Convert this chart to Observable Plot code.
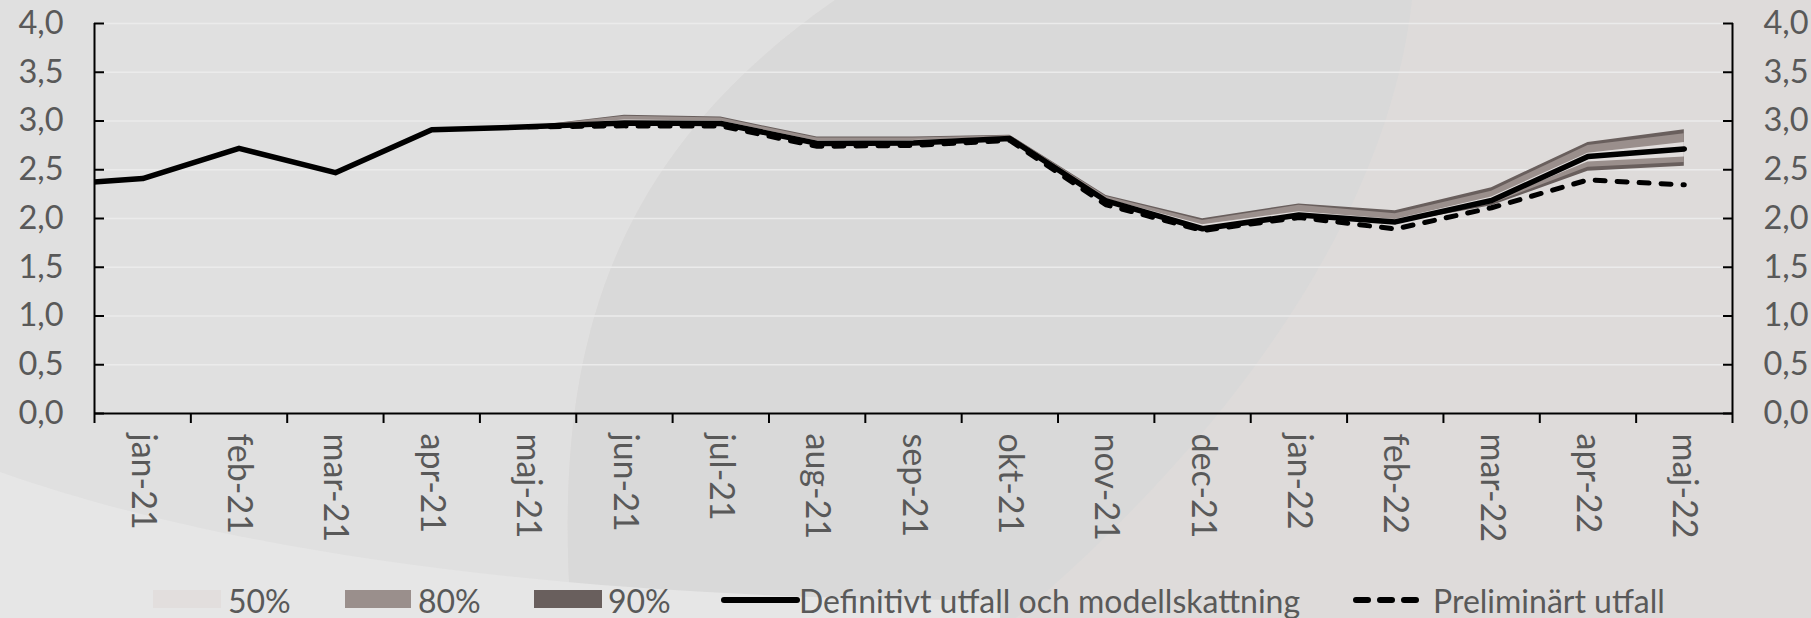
<!DOCTYPE html>
<html><head><meta charset="utf-8">
<script src="https://cdn.jsdelivr.net/npm/d3@7"></script>
<script src="https://cdn.jsdelivr.net/npm/@observablehq/plot@0.6"></script>
<style>
html,body{margin:0;padding:0;width:1811px;height:618px;overflow:hidden;background:#dedbda;font-family:Lato,sans-serif}
#bg{position:absolute;left:0;top:0}
#chart{position:absolute;left:0;top:0}
#legend{position:absolute;left:0;top:580px;width:1811px;height:42px}
.sw{position:absolute;top:10px;height:18px}
.lt{position:absolute;top:0;line-height:42px;font-size:32px;color:#595959;white-space:nowrap}
.ls{position:absolute;top:0}
</style></head>
<body>
<svg id="bg" width="1811" height="618">
  <rect width="1811" height="618" fill="#dedbda"/>
  <path d="M0,0 L835,0 C590,170 555,380 571,618 L0,618 Z" fill="#e0e0e0"/>
  <path d="M835,0 L1412,0 C1390,200 1250,420 1016,618 L571,618 C555,380 590,170 835,0 Z" fill="#d9d9d9"/>
  <path d="M0,472 C250,560 600,600 1000,600 L1000,618 L0,618 Z" fill="#e6e6e6"/>
</svg>
<div id="chart"></div>
<div id="legend"></div>
<script>
// ---- data ----
const months = ["jan-21","feb-21","mar-21","apr-21","maj-21","jun-21","jul-21","aug-21","sep-21","okt-21","nov-21","dec-21","jan-22","feb-22","mar-22","apr-22","maj-22"];
const dec20 = 2.34; // previous month, clipped at the left edge
const definitive  = [2.41,2.72,2.47,2.91,2.94,2.98,2.975,2.77,2.775,2.82,2.18,1.895,2.035,1.965,2.185,2.635,2.714];
const preliminary = [null,null,null,null,2.94,2.95,2.95,2.74,2.75,2.80,2.14,1.877,2.01,1.893,2.11,2.396,2.345];
const hi90 = [null,null,null,null,2.94,3.06,3.04,2.835,2.835,2.855,2.235,1.997,2.15,2.08,2.315,2.78,2.91];
const hi80 = [null,null,null,null,2.94,3.05,3.03,2.825,2.825,2.85,2.225,1.98,2.135,2.05,2.28,2.75,2.87];
const hi50 = [null,null,null,null,2.94,3.01,3.0,2.795,2.8,2.835,2.2,1.935,2.07,1.99,2.22,2.67,2.78];
const lo50 = [null,null,null,null,2.94,2.975,2.97,2.765,2.77,2.815,2.175,1.89,2.03,1.96,2.17,2.58,2.63];
const lo80 = [null,null,null,null,2.94,2.97,2.965,2.76,2.765,2.81,2.17,1.885,2.025,1.955,2.15,2.525,2.575];
const lo90 = [null,null,null,null,2.94,2.965,2.96,2.755,2.76,2.805,2.165,1.88,2.02,1.95,2.13,2.485,2.535];
const yTicks = [0,0.5,1,1.5,2,2.5,3,3.5,4];
const legendLabels = ["50%","80%","90%","Definitivt utfall och modellskattning","Preliminärt utfall"];
const bandColors = {b90:"#695f5d", b80:"#9a8f8c", b50:"#e2dedd"};

// ---- derived tables ----
const idx = d3.range(months.length);
const lineData = [{i:-1, v:dec20}, ...idx.map(i => ({i, v:definitive[i]}))];
const prelData = idx.filter(i => preliminary[i] != null).map(i => ({i, v:preliminary[i]}));
const bandData = idx.filter(i => hi90[i] != null).map(i => ({i, hi90:hi90[i], hi80:hi80[i], hi50:hi50[i], lo50:lo50[i], lo80:lo80[i], lo90:lo90[i]}));
const boundaries = d3.range(months.length + 1).map(k => k - 0.5);
const fmt = d => d.toFixed(1).replace(".", ",");

const W = 1811, H = 580;
const chart = Plot.plot({
  width: W, height: H,
  marginLeft: 94, marginRight: 79, marginTop: 23, marginBottom: H - 413,
  x: {type: "linear", domain: [-0.5, months.length - 0.5], axis: null, label: null},
  y: {domain: [0, 4], axis: null, label: null},
  style: {background: "transparent", fontFamily: "Lato, sans-serif", overflow: "visible"},
  marks: [
    Plot.gridY(yTicks, {stroke: "#ebebeb", strokeOpacity: 1, strokeWidth: 1.5}),
    Plot.areaY(bandData, {x: "i", y1: "lo90", y2: "hi90", fill: bandColors.b90}),
    Plot.areaY(bandData, {x: "i", y1: "lo80", y2: "hi80", fill: bandColors.b80}),
    Plot.areaY(bandData, {x: "i", y1: "lo50", y2: "hi50", fill: bandColors.b50}),
    Plot.lineY(lineData, {x: "i", y: "v", stroke: "black", strokeWidth: 5.5, strokeLinejoin: "round", clip: true}),
    Plot.lineY(prelData, {x: "i", y: "v", stroke: "black", strokeWidth: 5, strokeDasharray: "10,12", strokeLinecap: "round", strokeLinejoin: "round"}),
    Plot.ruleY([0], {stroke: "black", strokeWidth: 2}),
    Plot.ruleX([-0.5, months.length - 0.5], {stroke: "black", strokeWidth: 2}),
    Plot.axisX(boundaries, {anchor: "bottom", tickSize: 10, tickFormat: () => "", stroke: "black", strokeWidth: 2}),
    Plot.axisY(yTicks, {anchor: "left", tickSize: -10, tickFormat: () => "", stroke: "black", strokeWidth: 2}),
    Plot.axisY(yTicks, {anchor: "right", tickSize: -10, tickFormat: () => "", stroke: "black", strokeWidth: 2}),
    Plot.axisY(yTicks, {anchor: "left", tickSize: 0, tickPadding: 31, tickFormat: fmt, fontSize: 32.5, fill: "#595959"}),
    Plot.axisY(yTicks, {anchor: "right", tickSize: 0, tickPadding: 31, tickFormat: fmt, fontSize: 32.5, fill: "#595959"}),
    Plot.text(idx, {x: d => d, y: 0, text: d => months[d], rotate: 90, textAnchor: "start", lineAnchor: "middle", dy: 20, fontSize: 34, fill: "#595959"})
  ]
});
document.getElementById("chart").appendChild(chart);

// ---- legend ----
const leg = document.getElementById("legend");
const swatches = [
  {x: 153, w: 68, c: bandColors.b50, tx: 228, label: legendLabels[0]},
  {x: 345, w: 66, c: bandColors.b80, tx: 418, label: legendLabels[1]},
  {x: 534, w: 68, c: bandColors.b90, tx: 608, label: legendLabels[2]}
];
for (const s of swatches) {
  const d = document.createElement("div");
  d.className = "sw"; d.style.left = s.x + "px"; d.style.width = s.w + "px"; d.style.background = s.c;
  leg.appendChild(d);
  const t = document.createElement("div");
  t.className = "lt"; t.style.left = s.tx + "px"; t.textContent = s.label;
  leg.appendChild(t);
}
const ns = "http://www.w3.org/2000/svg";
function lineSample(x, w, dash, tx, label) {
  const svg = document.createElementNS(ns, "svg");
  svg.setAttribute("class", "ls"); svg.setAttribute("width", w + 6); svg.setAttribute("height", 42);
  svg.style.left = (x - 3) + "px";
  const l = document.createElementNS(ns, "line");
  l.setAttribute("x1", 3 + (dash ? 3 : 0)); l.setAttribute("x2", w + 3 - (dash ? 3 : 0));
  l.setAttribute("y1", 20); l.setAttribute("y2", 20);
  l.setAttribute("stroke", "black"); l.setAttribute("stroke-width", 6); l.setAttribute("stroke-linecap", "round");
  if (dash) l.setAttribute("stroke-dasharray", "12,12");
  svg.appendChild(l); leg.appendChild(svg);
  const t = document.createElement("div");
  t.className = "lt"; t.style.left = tx + "px"; t.textContent = label;
  leg.appendChild(t);
}
lineSample(724, 73, false, 799, legendLabels[3]);
lineSample(1353, 66, true, 1433, legendLabels[4]);
</script>
</body></html>
